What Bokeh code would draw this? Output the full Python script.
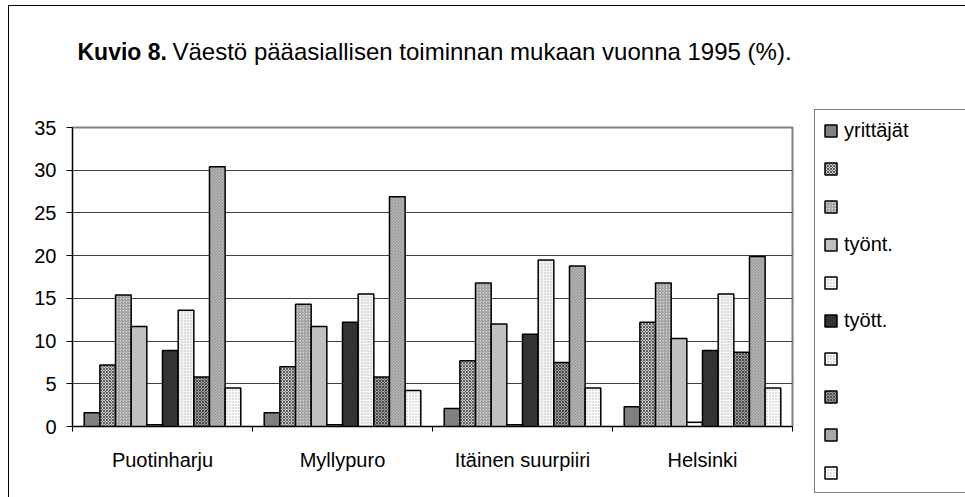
from bokeh.plotting import figure
from bokeh.models import (ColumnDataSource, Range1d, FixedTicker, SingleIntervalTicker,
                          Legend, LegendItem, Label)
from bokeh.layouts import column, row
from bokeh.transform import dodge
from bokeh.embed import file_html
from bokeh.resources import INLINE

categories = ["Puotinharju", "Myllypuro", "Itäinen suurpiiri", "Helsinki"]
series_labels = ["yrittäjät", "", "", "työnt.", "", "tyött.", "", "", "", ""]

s1 = [1.6, 1.6, 2.1, 2.3]
s2 = [7.2, 7.0, 7.7, 12.2]
s3 = [15.4, 14.3, 16.8, 16.8]
s4 = [11.7, 11.7, 12.0, 10.3]
s5 = [0.2, 0.2, 0.2, 0.5]
s6 = [8.9, 12.2, 10.8, 8.9]
s7 = [13.6, 15.5, 19.5, 15.5]
s8 = [5.8, 5.8, 7.5, 8.7]
s9 = [30.4, 26.9, 18.8, 19.9]
s10 = [4.5, 4.2, 4.5, 4.5]
series = [s1, s2, s3, s4, s5, s6, s7, s8, s9, s10]

title_bold = "Kuvio 8."
title_rest = "Väestö pääasiallisen toiminnan mukaan vuonna 1995 (%)."

# fill, hatch pattern, hatch colour
styles = [
    ("#808080", None, None),
    ("#c8c8c8", "x", "#606060"),
    ("#d4d4d4", "/", "#8c8c8c"),
    ("#c0c0c0", None, None),
    ("#ffffff", ".", "#a0a0a0"),
    ("#333333", None, None),
    ("#f4f4f4", ".", "#b8b8b8"),
    ("#a0a0a0", "x", "#4a4a4a"),
    ("#d0d0d0", "\\", "#909090"),
    ("#ffffff", ".", "#b0b0b0"),
]

FONT = "Liberation Sans"


def blank_fig(w, h):
    f = figure(width=w, height=h, output_backend="svg", toolbar_location=None,
               x_range=Range1d(0, 1), y_range=Range1d(0, 1),
               x_axis_location=None, y_axis_location=None, min_border=0,
               background_fill_color="white", border_fill_color="white")
    f.outline_line_color = None
    f.grid.visible = False
    return f


# ---- title strip ----
tf = blank_fig(956, 100)
tf.add_layout(Label(x=68, y=55, x_units="screen", y_units="screen", text=title_bold,
                    text_font=FONT, text_font_size="23px", text_font_style="bold",
                    text_baseline="middle", text_color="black"))
tf.add_layout(Label(x=163, y=55, x_units="screen", y_units="screen", text=title_rest,
                    text_font=FONT, text_font_size="24px", text_baseline="middle",
                    text_color="black"))

# ---- main chart ----
p = figure(width=800, height=391, output_backend="svg", toolbar_location=None,
           x_range=Range1d(0, 4), y_range=Range1d(0, 35),
           min_border_left=63, min_border_top=21, min_border_right=17,
           min_border_bottom=71, background_fill_color="white",
           border_fill_color="white")

p.outline_line_color = "#808080"
p.outline_line_width = 2
p.xgrid.visible = False
p.ygrid.grid_line_color = "#404040"
p.ygrid.grid_line_width = 1
p.ygrid.ticker = SingleIntervalTicker(interval=5)

# ---- legend strip (hidden proxy renderers carry the legend swatches) ----
lf = blank_fig(156, 391)

centers = [i + 0.5 for i in range(len(categories))]
bar_w = 0.087
items = []
for j, (vals, (fc, hp, hc)) in enumerate(zip(series, styles)):
    src = ColumnDataSource(dict(x=centers, top=vals))
    kw = dict(fill_color=fc, line_color="black", line_width=1.5)
    if hp:
        kw.update(hatch_pattern=hp, hatch_color=hc, hatch_scale=3, hatch_weight=1)
    p.vbar(x=dodge("x", (j - 4.5) * bar_w, range=p.x_range), top="top", bottom=0,
           width=bar_w, source=src, **kw)
    lr = lf.vbar(x="x", top="top", bottom=0, width=bar_w, source=src, **kw)
    lr.visible = False
    items.append(LegendItem(label=series_labels[j], renderers=[lr]))

# axes
xa = p.xaxis[0]
xa.ticker = FixedTicker(ticks=centers, minor_ticks=[0, 1, 2, 3, 4])
xa.major_label_overrides = {c: n for c, n in zip(centers, categories)}
xa.major_tick_out = 0
xa.major_tick_in = 0
xa.minor_tick_out = 5
xa.minor_tick_in = 0
xa.minor_tick_line_color = "black"
xa.axis_line_color = "black"
xa.major_label_standoff = 17
xa.major_label_text_font = FONT
xa.major_label_text_font_size = "20px"
xa.major_label_text_color = "black"

ya = p.yaxis[0]
ya.ticker = SingleIntervalTicker(interval=5)
ya.minor_tick_line_color = None
ya.major_tick_out = 6
ya.major_tick_in = 0
ya.axis_line_color = "black"
ya.major_label_standoff = 10
ya.major_label_text_font = FONT
ya.major_label_text_font_size = "20px"
ya.major_label_text_color = "black"

legend = Legend(items=items, location=(5, 4), orientation="vertical",
                glyph_width=15, glyph_height=15, label_height=24, label_width=130,
                spacing=14, padding=8, margin=0, label_standoff=6,
                label_text_font=FONT, label_text_font_size="20px",
                label_text_color="black", click_policy="none",
                border_line_color="black", border_line_width=1,
                background_fill_color="white", background_fill_alpha=1)
lf.add_layout(legend)

layout = column(tf, row(p, column(lf)))
layout.styles = {"border-left": "1px solid black", "border-top": "1px solid black",
                 "margin-left": "8px", "margin-top": "5px"}

open("out.html", "w").write(file_html(layout, INLINE))
